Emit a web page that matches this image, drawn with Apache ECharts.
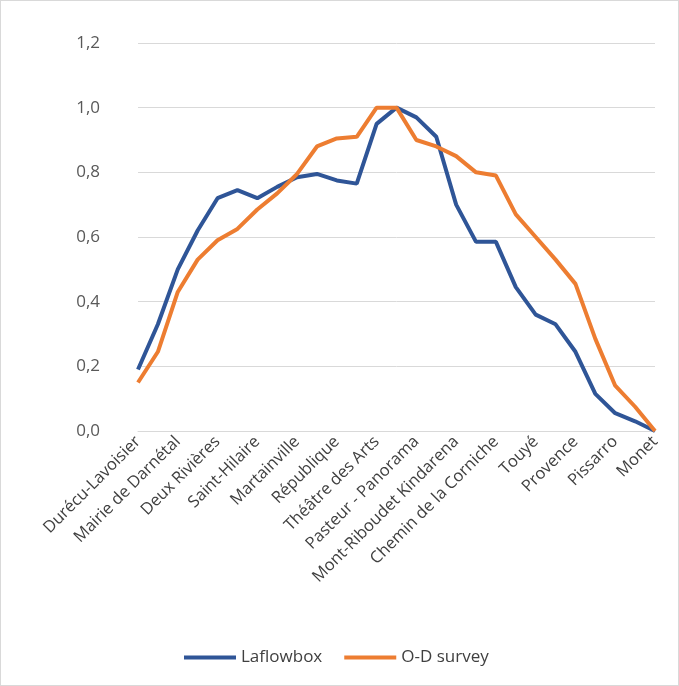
<!DOCTYPE html>
<html><head><meta charset="utf-8">
<script src="https://cdn.jsdelivr.net/npm/echarts@6/dist/echarts.min.js"></script>
<style>html,body{margin:0;padding:0;background:#fff}#c{width:679px;height:686px;box-sizing:border-box;border:1px solid #d9d9d9}</style>
</head><body><div id="c"></div>
<script>
const stops = ['Durécu-Lavoisier','', 'Mairie de Darnétal','', 'Deux Rivières','', 'Saint-Hilaire','', 'Martainville','', 'République','', 'Théâtre des Arts','', 'Pasteur - Panorama','', 'Mont-Riboudet Kindarena','', 'Chemin de la Corniche','', 'Touyé','', 'Provence','', 'Pissarro','', 'Monet'];
const laflowbox = [0.19,0.33,0.50,0.62,0.72,0.745,0.72,0.755,0.785,0.795,0.775,0.765,0.95,1.0,0.97,0.91,0.70,0.585,0.585,0.445,0.36,0.33,0.245,0.115,0.055,0.03,0.0];
const odSurvey = [0.15,0.245,0.43,0.53,0.59,0.625,0.685,0.735,0.795,0.88,0.905,0.91,1.0,1.0,0.90,0.88,0.85,0.80,0.79,0.67,0.60,0.53,0.455,0.285,0.14,0.075,0.0];

const chart = echarts.init(document.getElementById('c'));
const font = '"Open Sans", "Noto Sans", sans-serif';
chart.setOption({
  animation: false,
  grid: { left: 137, right: 23, top: 42, bottom: 254 },
  legend: {
    top: 643, left: 178, itemGap: 22, itemWidth: 52, itemHeight: 4,
    icon: 'rect',
    textStyle: { fontSize: 17, color: '#404040', fontFamily: font },
    data: ['Laflowbox', 'O-D survey']
  },
  xAxis: {
    type: 'category', data: stops, boundaryGap: false,
    axisTick: { show: false },
    axisLine: { lineStyle: { color: '#d9d9d9' } },
    axisLabel: { interval: 0, rotate: 45, fontSize: 16.5, color: '#404040', fontFamily: font, margin: 8 }
  },
  yAxis: {
    type: 'value', min: 0, max: 1.2, interval: 0.2,
    axisLabel: { fontSize: 17, color: '#595959', fontFamily: font, margin: 38,
      formatter: v => v.toFixed(1).replace('.', ',') },
    splitLine: { lineStyle: { color: '#d9d9d9' } }
  },
  series: [
    { name: 'Laflowbox', type: 'line', data: laflowbox, showSymbol: false,
      lineStyle: { width: 4, color: '#2f5597' }, itemStyle: { color: '#2f5597' } },
    { name: 'O-D survey', type: 'line', data: odSurvey, showSymbol: false,
      lineStyle: { width: 4, color: '#ed7d31' }, itemStyle: { color: '#ed7d31' } }
  ]
});
</script></body></html>
